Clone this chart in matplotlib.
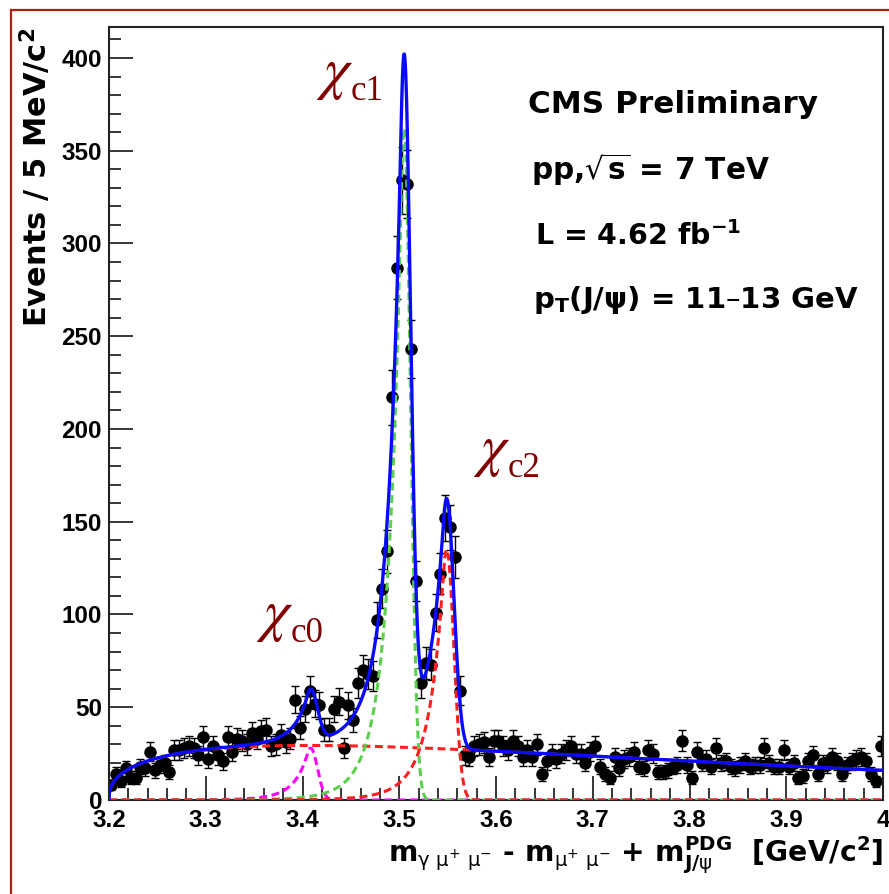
import numpy as np
import matplotlib
matplotlib.use("Agg")
import matplotlib.pyplot as plt
from matplotlib.lines import Line2D
from matplotlib.ticker import MultipleLocator, FuncFormatter

# ---------------- data ----------------
x_min, x_max, bin_width = 3.2, 4.0, 0.005
counts = [
    8, 14, 10, 17, 12, 12, 18, 17, 26, 16,
    19, 20, 15, 27, 27, 28, 29, 28, 24, 34,
    22, 29, 24, 21, 34, 26, 33, 32, 30, 36,
    33, 37, 38, 29, 30, 35, 31, 33, 54, 39,
    49, 59, 52, 51, 38, 38, 49, 53, 28, 51,
    43, 63, 70, 68, 67, 97, 114, 134, 217, 287,
    334, 332, 243, 118, 63, 74, 73, 101, 122, 152,
    147, 131, 59, 24, 23, 29, 30, 31, 23, 32,
    32, 29, 27, 32, 29, 23, 27, 23, 30, 14,
    21, 25, 22, 25, 27, 29, 25, 25, 20, 26,
    29, 18, 14, 12, 23, 17, 22, 23, 26, 18,
    17, 27, 25, 15, 15, 16, 18, 19, 32, 19,
    12, 26, 20, 22, 18, 28, 20, 21, 18, 17,
    19, 21, 18, 19, 19, 28, 20, 18, 18, 27,
    18, 20, 12, 13, 21, 24, 14, 20, 19, 23,
    21, 14, 19, 21, 22, 23, 21, 14, 10, 29,
]

# fit-model parameters
bkg_amp, bkg_power, bkg_slope = 82.5, 0.4, 1.94
peak_names = ["c0", "c1", "c2"]
peak_mass = [3.4085, 3.505, 3.549]
peak_sigma = [0.007, 0.0066, 0.0075]
peak_amp = [28.0, 362.0, 135.0]
cb_alpha, cb_n = 0.5, 8.0

x_ticks = [3.2, 3.3, 3.4, 3.5, 3.6, 3.7, 3.8, 3.9, 4.0]
y_ticks = [0, 50, 100, 150, 200, 250, 300, 350, 400]

# ---------------- model ----------------
def crystal_ball(x, mu, sigma, alpha, n):
    t = (x - mu) / sigma
    out = np.exp(-0.5 * t ** 2)
    A = (n / alpha) ** n * np.exp(-0.5 * alpha ** 2)
    B = n / alpha - alpha
    m = t < -alpha
    out[m] = A * (B - t[m]) ** (-n)
    return out

def background(x):
    d = np.clip(x - x_min, 0, None)
    return bkg_amp * d ** bkg_power * np.exp(-bkg_slope * d)

# ---------------- figure ----------------
W, H = 889, 894
fig = plt.figure(figsize=(W / 100, H / 100), dpi=100)
ax = fig.add_axes([109 / W, 1 - 800 / H, (883 - 109) / W, (800 - 27) / H])

def fx(px):
    return px / W

def fy(py):
    return 1 - py / H

counts_arr = np.array(counts, dtype=float)
centers = x_min + bin_width * (np.arange(len(counts_arr)) + 0.5)
errs = np.sqrt(counts_arr)

ax.errorbar(centers, counts_arr, yerr=errs, fmt="o", color="black",
            markersize=8, elinewidth=1.0, capsize=3, capthick=1.0, zorder=2)

xx = np.linspace(x_min, x_max, 3000)
bkg = background(xx)
comps = [a * crystal_ball(xx, m, s, cb_alpha, cb_n)
         for m, s, a in zip(peak_mass, peak_sigma, peak_amp)]
total = bkg + sum(comps)

dash = (0, (2.6, 1.5))
ax.plot(xx, bkg, color="#ff1f1f", lw=2.2, linestyle=dash, zorder=3)
ax.plot(xx, comps[0], color="#ff00ff", lw=2.2, linestyle=dash, zorder=3)
ax.plot(xx, comps[1], color="#5ccf4e", lw=2.2, linestyle=dash, zorder=3)
ax.plot(xx, comps[2], color="#ff1f1f", lw=2.2, linestyle=dash, zorder=3)
ax.plot(xx, total, color="#0a0aff", lw=2.4, zorder=4)

ax.set_xlim(x_min, x_max)
ax.set_ylim(0, 416.7)

ax.set_xticks(x_ticks)
ax.set_yticks(y_ticks)
ax.xaxis.set_minor_locator(MultipleLocator(0.02))
ax.yaxis.set_minor_locator(MultipleLocator(10))
ax.xaxis.set_major_formatter(FuncFormatter(lambda v, p: f"{v:g}"))
ax.tick_params(which="both", direction="in", top=False, right=False, width=1.1)
ax.tick_params(which="major", length=17)
ax.tick_params(which="minor", length=8.5)
ax.tick_params(axis="x", which="major", pad=6.5)
ax.tick_params(axis="y", which="major", pad=5)
for lab in ax.get_xticklabels() + ax.get_yticklabels():
    lab.set_fontfamily("Liberation Sans")
    lab.set_fontweight("bold")
    lab.set_fontsize(17.5)
for sp in ax.spines.values():
    sp.set_linewidth(1.5)
    sp.set_color("#222222")

# axis titles
fig.text(fx(47), fy(28), r"Events / 5 MeV/c$^{\mathbf{2}}$", rotation=90,
         rotation_mode="anchor", ha="right", va="baseline",
         fontsize=22, fontweight="bold")
fig.text(fx(883), fy(862),
         r"$\mathbf{m}_{\mathrm{\gamma\ \mu^{+}\ \mu^{-}}}$ - "
         r"$\mathbf{m}_{\mathrm{\mu^{+}\ \mu^{-}}}$ + "
         r"$\mathbf{m}^{\mathbf{PDG}}_{\mathbf{J/}\mathrm{\psi}}$  [GeV/c$^{\mathbf{2}}$]",
         ha="right", va="baseline", fontsize=20.3, fontweight="bold")

# info text
info = [("CMS Preliminary", 528, 113, 22.4),
        (r"pp,$\sqrt{\mathbf{s}}$ = 7 TeV", 531, 180, 21.3),
        (r"L = 4.62 fb$^{\mathbf{-1}}$", 535, 245, 20.5),
        (r"p$_{\mathbf{T}}$(J/ψ) = 11–13 GeV", 533, 308, 21.0)]
for txt, px, py, fs in info:
    fig.text(fx(px), fy(py), txt, ha="left", va="baseline",
             fontsize=fs, fontweight="bold")

# chi labels
label_color = "#800000"
label_pos = {"c0": (3.3537, 85.2), "c1": (3.416, 377.4), "c2": (3.5783, 174.1)}
for name in peak_names:
    lx, ly = label_pos[name]
    ax.annotate(r"$\chi$", xy=(lx, ly), xytext=(-2, 12), textcoords="offset pixels",
                ha="left", va="baseline", fontsize=42, color=label_color,
                math_fontfamily="stix", annotation_clip=False)
    ax.annotate(name, xy=(lx, ly), xytext=(33, 0), textcoords="offset pixels",
                ha="left", va="baseline", fontsize=25, color=label_color,
                family="Liberation Serif", annotation_clip=False)

# page border
border_color = "#a8200f"
fig.add_artist(Line2D([fx(11), 1.0], [fy(10), fy(10)], color=border_color, lw=1.6))
fig.add_artist(Line2D([fx(11), fx(11)], [fy(10), 0.0], color=border_color, lw=1.6))

fig.savefig("out.png", dpi=100)
